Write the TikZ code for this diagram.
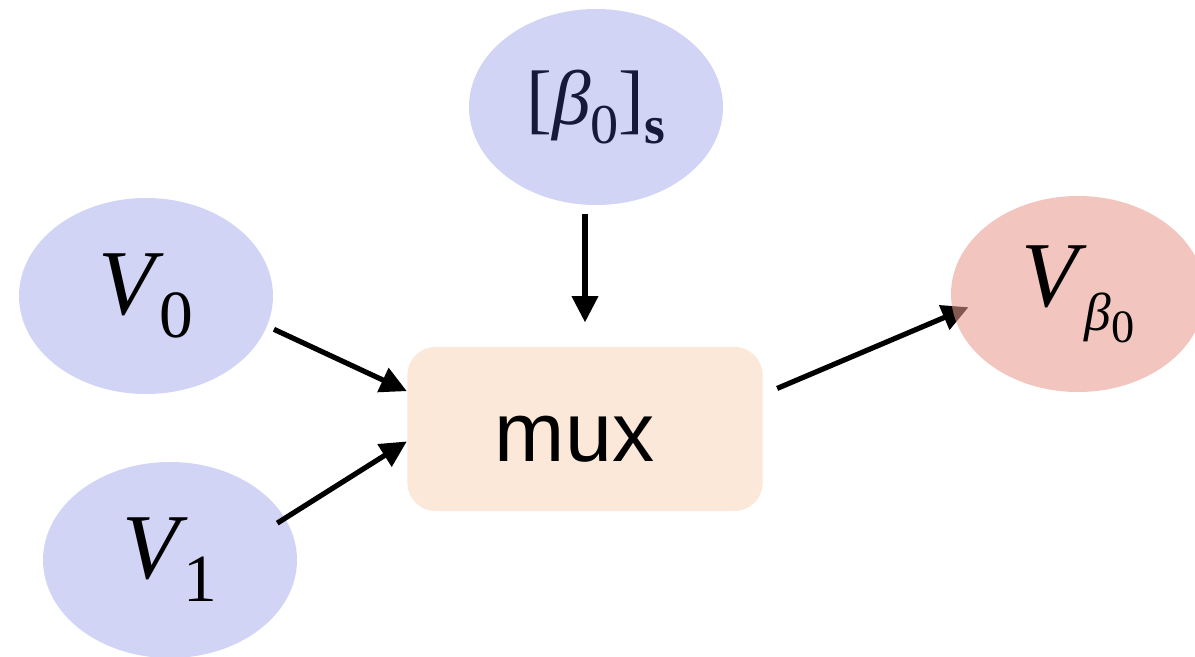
\documentclass[tikz,border=0pt]{standalone}
\usepackage{fontspec}
\setmainfont{Liberation Serif}
\newfontfamily\muxfont{Liberation Sans}
\usetikzlibrary{arrows.meta}
\usetikzlibrary{shapes.geometric}
\usetikzlibrary{backgrounds}

\definecolor{varblue}{RGB}{210,212,245}
\definecolor{muxtan}{RGB}{251,232,216}
\definecolor{outred}{RGB}{232,155,141}
\definecolor{selnavy}{RGB}{22,26,58}

% lowered, smaller index: depth, size, text
\newcommand{\lowidx}[3]{\raisebox{-#1}{\fontsize{#2}{#2}\selectfont #3}}

\begin{document}
\begin{tikzpicture}[>={Triangle[length=3.3mm,width=3.2mm]}, x=0.125mm, y=-0.125mm,
  var/.style={ellipse, fill=varblue, minimum width=31.75mm, minimum height=24.5mm, inner sep=0pt},
  flow/.style={->, line width=0.65mm}] % pixel grid, y down

  \useasboundingbox (0,0) rectangle (1195,657);

  \node[var,text=selnavy](beta) at (596,107)
    {\fontsize{27.5}{30}\selectfont[\textit{β}\lowidx{7pt}{20}{0}]\lowidx{7pt}{19}{\bfseries s}};
  \node[var](V0) at (146,296) {\fontsize{33}{36}\selectfont\textit{V}\kern-1.5pt\lowidx{8.2pt}{24}{0}};
  \node[var](V1) at (170,560) {\fontsize{33}{36}\selectfont\textit{V}\kern-1.5pt\lowidx{8.2pt}{24}{1}};
  \node[var,fill=outred,fill opacity=0.57,text opacity=1](Vb) at (1078,294)
    {\fontsize{33}{36}\selectfont\textit{V}\kern-1pt\lowidx{8.8pt}{19}{\textit{β}\lowidx{4pt}{16.5}{0}}};
  \node[rectangle,rounded corners=3.5mm,fill=muxtan,minimum width=44.4mm,minimum height=20.5mm](mux)
    at (585,429) {\muxfont\fontsize{30}{33}\selectfont\raisebox{-1.3mm}[\height][\depth]{mux}\hspace*{2.6mm}};

  \draw[flow,shorten <=1mm,shorten >=3mm] (beta.south -| mux.north) -- (mux.north);
  \draw[flow,shorten <=0.9mm] (V0.-14) -- (mux.168.5);
  \draw[flow,shorten <=-1.2mm] (V1.20) -- (mux.184);
  \begin{scope}[on background layer]
    \draw[flow,shorten <=1.9mm,shorten >=-2.1mm] (mux.11) -- (Vb.189);
  \end{scope}

\end{tikzpicture}
\end{document}
